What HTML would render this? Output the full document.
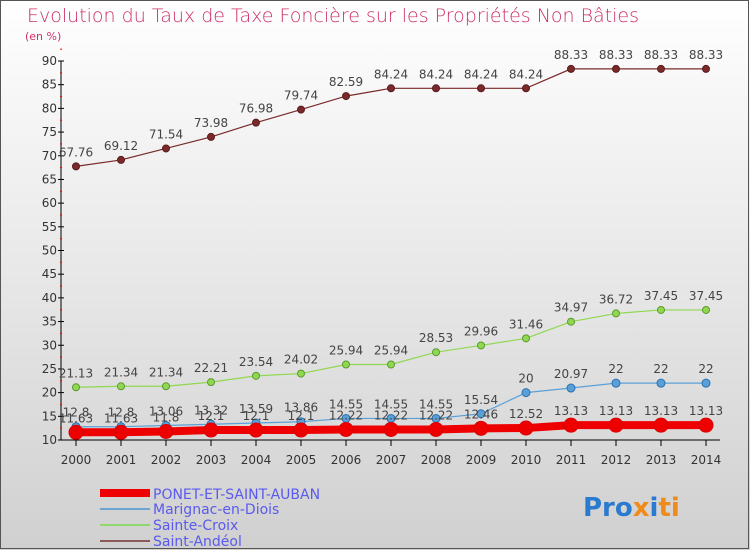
<!DOCTYPE html>
<html><head><meta charset="utf-8"><style>
body{margin:0}
#c{width:750px;height:550px;position:relative;background:linear-gradient(#ffffff,#d0d0d0);font-family:"DejaVu Sans","Liberation Sans",sans-serif;overflow:hidden}
</style></head><body>
<div id="c">
<svg id="s" width="750" height="550" xmlns="http://www.w3.org/2000/svg">
<rect x="0.5" y="0.5" width="748" height="548" fill="none" stroke="#555"/>
<text x="27" y="22" font-size="19" fill="#cc2f6a" font-weight="200">Evolution du Taux de Taxe Foncière sur les Propriétés Non Bâties</text>
<text x="25" y="40" font-size="11" fill="#cc2f6a">(en %)</text>
<g id="g"></g>
<g font-size="14" fill="#5a5aee">
<rect x="100" y="489" width="50" height="8" fill="#ee0000"/>
<text x="153" y="499">PONET-ET-SAINT-AUBAN</text>
<rect x="100" y="508" width="50" height="2" fill="#6ea4d0"/>
<text x="153" y="514">Marignac-en-Diois</text>
<rect x="100" y="524" width="50" height="2" fill="#8fd870"/>
<text x="153" y="530">Sainte-Croix</text>
<rect x="100" y="540" width="50" height="2" fill="#8a5a5a"/>
<text x="153" y="546">Saint-Andéol</text>
</g>
<g font-size="26" font-weight="bold">
<text x="583" y="516"><tspan fill="#2a7bd0">Pro</tspan><tspan fill="#f08a1a">x</tspan><tspan fill="#2a7bd0">i</tspan><tspan fill="#f08a1a">ti</tspan></text>
</g>
</svg>
</div>
<script>
const years=[2000,2001,2002,2003,2004,2005,2006,2007,2008,2009,2010,2011,2012,2013,2014];
const ponet=[11.63,11.63,11.8,12.1,12.1,12.1,12.22,12.22,12.22,12.46,12.52,13.13,13.13,13.13,13.13];
const marignac=[12.8,12.8,13.06,13.32,13.59,13.86,14.55,14.55,14.55,15.54,20,20.97,22,22,22];
const croix=[21.13,21.34,21.34,22.21,23.54,24.02,25.94,25.94,28.53,29.96,31.46,34.97,36.72,37.45,37.45];
const andeol=[67.76,69.12,71.54,73.98,76.98,79.74,82.59,84.24,84.24,84.24,84.24,88.33,88.33,88.33,88.33];
const yTicks=[10,15,20,25,30,35,40,45,50,55,60,65,70,75,80,85,90];
const NS="http://www.w3.org/2000/svg";
const g=document.getElementById('g');
const X=i=>76+i*45;
const Y=v=>440-(v-10)*379/80;
function mk(t,a,p){const e=document.createElementNS(NS,t);for(const k in a)e.setAttribute(k,a[k]);(p||g).appendChild(e);return e;}
let ax=mk('line',{x1:61,y1:61,x2:61,y2:440,stroke:'#000'});


let bx=mk('line',{x1:61,y1:440,x2:720,y2:440,stroke:'#000'});


yTicks.forEach(v=>{
 let t=mk('line',{x1:58,y1:Y(v),x2:64,y2:Y(v),stroke:'#000'});
 
 
 let r=mk('line',{x1:60,y1:Y(v+2.5),x2:62,y2:Y(v+2.5),stroke:'#e00'});
 
 
 let l=mk('text',{x:57,y:Y(v)+4,'font-size':12,'text-anchor':'end',fill:'#333'});l.textContent=v;
 
 
});
years.forEach((yr,i)=>{
 let t=mk('line',{x1:X(i),y1:440,x2:X(i),y2:446,stroke:'#000'});
 
 
 let l=mk('text',{x:X(i),y:464,'font-size':12,'text-anchor':'middle',fill:'#333'});l.textContent=yr;
 
 
});
function series(vals,color,w,r,name,dark){
 let pts=vals.map((v,i)=>X(i)+','+Y(v)).join(' ');
 let pl=mk('polyline',{points:pts,fill:'none',stroke:color,'stroke-width':w});
 
 
 vals.forEach((v,i)=>{
  let c=mk('circle',{cx:X(i),cy:Y(v),r:r,fill:color,stroke:dark,'stroke-width':1});
  
  
  let l=mk('text',{x:X(i),y:Y(v)-10,'font-size':12,'text-anchor':'middle',fill:'#444'});l.textContent=v;
  
  
 });
}
series(andeol,'#7a2a2a',1.2,3.5,'saint-andeol','#5a1a1a');
series(croix,'#8fd850',1.2,3.5,'sainte-croix','#5a9a30');
series(marignac,'#5aa0d8',1.2,4,'marignac','#2a70b0');
series(ponet,'#ee0000',8,7,'ponet','#dd0000');
</script>
</body></html>
